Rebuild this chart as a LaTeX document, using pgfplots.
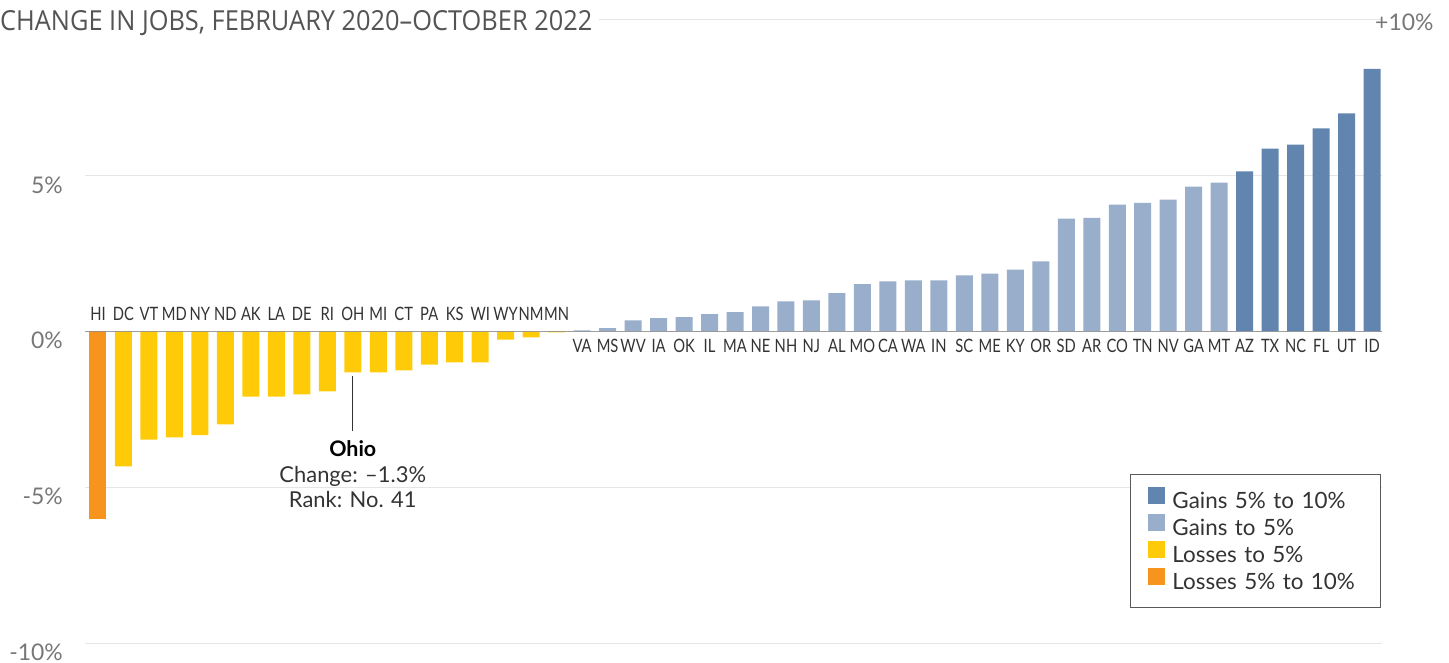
\documentclass[border=0pt]{standalone}
\usepackage{graphicx}
\usepackage{pgfplots}
\pgfplotsset{compat=1.18}
\usepackage{pgfplotstable}
\usepackage{fontspec}
\setmainfont{Lato}
\newfontfamily\titlefont{Open Sans}
\newfontfamily\condfont[FakeStretch=0.8]{Lato}
\definecolor{cdark}{HTML}{6185AE}
\definecolor{clight}{HTML}{98AECB}
\definecolor{cyel}{HTML}{FFCB08}
\definecolor{corg}{HTML}{F7941D}
\definecolor{tickgray}{HTML}{777777}
\definecolor{labgray}{HTML}{333333}

\pgfplotstableread{
x y
45 5.14
46 5.87
47 6.00
48 6.52
49 7.00
50 8.43
}\darkdata
\pgfplotstableread{
x y
19 0.04
20 0.11
21 0.36
22 0.43
23 0.46
24 0.56
25 0.62
26 0.81
27 0.97
28 1.00
29 1.23
30 1.52
31 1.61
32 1.64
33 1.64
34 1.80
35 1.86
36 1.99
37 2.25
38 3.62
39 3.65
40 4.07
41 4.13
42 4.23
43 4.65
44 4.78
}\lightdata
\pgfplotstableread{
x y
1 -4.33
2 -3.47
3 -3.40
4 -3.33
5 -2.98
6 -2.09
7 -2.09
8 -2.02
9 -1.92
10 -1.31
11 -1.31
12 -1.25
13 -1.06
14 -0.99
15 -0.99
16 -0.26
17 -0.19
18 -0.03
}\yeldata
\pgfplotstableread{
x y
0 -6.01
}\orgdata
\pgfplotstableread{
x y lab
0 0 HI
1 0 DC
2 0 VT
3 0 MD
4 0 NY
5 0 ND
6 0 AK
7 0 LA
8 0 DE
9 0 RI
10 0 OH
11 0 MI
12 0 CT
13 0 PA
14 0 KS
15 0 WI
16 0 WY
17 0 NM
18 0 MN
}\neglab
\pgfplotstableread{
x y lab
19 0 VA
20 0 MS
21 0 WV
22 0 IA
23 0 OK
24 0 IL
25 0 MA
26 0 NE
27 0 NH
28 0 NJ
29 0 AL
30 0 MO
31 0 CA
32 0 WA
33 0 IN
34 0 SC
35 0 ME
36 0 KY
37 0 OR
38 0 SD
39 0 AR
40 0 CO
41 0 TN
42 0 NV
43 0 GA
44 0 MT
45 0 AZ
46 0 TX
47 0 NC
48 0 FL
49 0 UT
50 0 ID
}\poslab

\begin{document}
\begin{tikzpicture}
\useasboundingbox (0,0) rectangle (1449bp,663bp);
\begin{axis}[
  at={(85bp,20bp)}, anchor=south west,
  width=1297bp, height=623bp, scale only axis,
  xmin=-0.51, xmax=50.39, ymin=-10, ymax=10,
  axis line style={draw=none},
  xtick=\empty,
  ytick={-10,-5,0,5,10},
  yticklabels={-10\%,-5\%,0\%,5\%,{}},
  major tick length=0pt,
  ymajorgrids,
  grid style={color=black!10, line width=1bp},
  yticklabel style={anchor=north east, inner sep=0pt, xshift=-22bp, yshift=-0.5bp,
    font=\fontsize{23}{23}\selectfont, text=tickgray},
  clip=false,
  legend style={at={(0.9992,0.2713)}, anchor=north east, draw=black!65, line width=1bp,
    font=\fontsize{22.5}{26}\selectfont, text=labgray, inner xsep=18bp, inner ysep=13bp,
    row sep=1bp, column sep=0bp,
    nodes={inner sep=0pt, text height=17bp, text depth=5bp, text width=190bp},
    /tikz/every odd column/.append style={column sep=7bp}},
  legend cell align=left,
]
\addplot[ybar, bar width=17bp, bar shift=0pt, fill=cdark, draw=none,
  legend image code/.code={\fill[cdark] (0bp,-2bp) rectangle (17bp,15bp);}]
  table[x=x,y=y]{\darkdata};
\addlegendentry{Gains 5\% to 10\%}
\addplot[ybar, bar width=17bp, bar shift=0pt, fill=clight, draw=none,
  legend image code/.code={\fill[clight] (0bp,-2bp) rectangle (17bp,15bp);}]
  table[x=x,y=y]{\lightdata};
\addlegendentry{Gains to 5\%}
\addplot[ybar, bar width=17bp, bar shift=0pt, fill=cyel, draw=none,
  legend image code/.code={\fill[cyel] (0bp,-2bp) rectangle (17bp,15bp);}]
  table[x=x,y=y]{\yeldata};
\addlegendentry{Losses to 5\%}
\addplot[ybar, bar width=17bp, bar shift=0pt, fill=corg, draw=none,
  legend image code/.code={\fill[corg] (0bp,-2bp) rectangle (17bp,15bp);}]
  table[x=x,y=y]{\orgdata};
\addlegendentry{Losses 5\% to 10\%}

\addplot[forget plot, only marks, mark=none, nodes near coords, point meta=explicit symbolic,
  nodes near coords align={anchor=base},
  every node near coord/.append style={yshift=11bp, font=\condfont\fontsize{18.5}{18.5}\selectfont, text=labgray}]
  table[x=x,y=y,meta=lab]{\neglab};
\addplot[forget plot, only marks, mark=none, nodes near coords, point meta=explicit symbolic,
  nodes near coords align={anchor=base},
  every node near coord/.append style={yshift=-21.5bp, font=\condfont\fontsize{18.5}{18.5}\selectfont, text=labgray}]
  table[x=x,y=y,meta=lab]{\poslab};

\draw[black!45, opacity=0.8, line width=1.5bp] (axis cs:-0.51,0) -- (axis cs:50.39,0);

\draw[black!80, line width=1bp] (axis cs:10,-1.44) -- (axis cs:10,-3.21);
\node[anchor=base, inner sep=0pt, font=\bfseries\fontsize{21.5}{21.5}\selectfont, text=black] at (axis cs:10,-4.0) {Ohio};
\node[anchor=base, inner sep=0pt, font=\fontsize{22}{22}\selectfont, text=labgray] at (axis cs:10,-4.84) {Change: –1.3\%};
\node[anchor=base, inner sep=0pt, font=\fontsize{22}{22}\selectfont, text=labgray] at (axis cs:10,-5.66) {Rank: No. 41};
\end{axis}
\fill[white] (0,624bp) rectangle (599bp,660bp);
\node[anchor=base west, inner sep=0pt, text=black!67] at (0bp,632bp)
  {\resizebox{592bp}{20bp}{\titlefont CHANGE IN JOBS, FEBRUARY 2020–OCTOBER 2022}};
\node[anchor=west, inner sep=0pt, font=\fontsize{23}{23}\selectfont, text=tickgray] at (1375bp,640.5bp) {+10\%};
\end{tikzpicture}
\end{document}
